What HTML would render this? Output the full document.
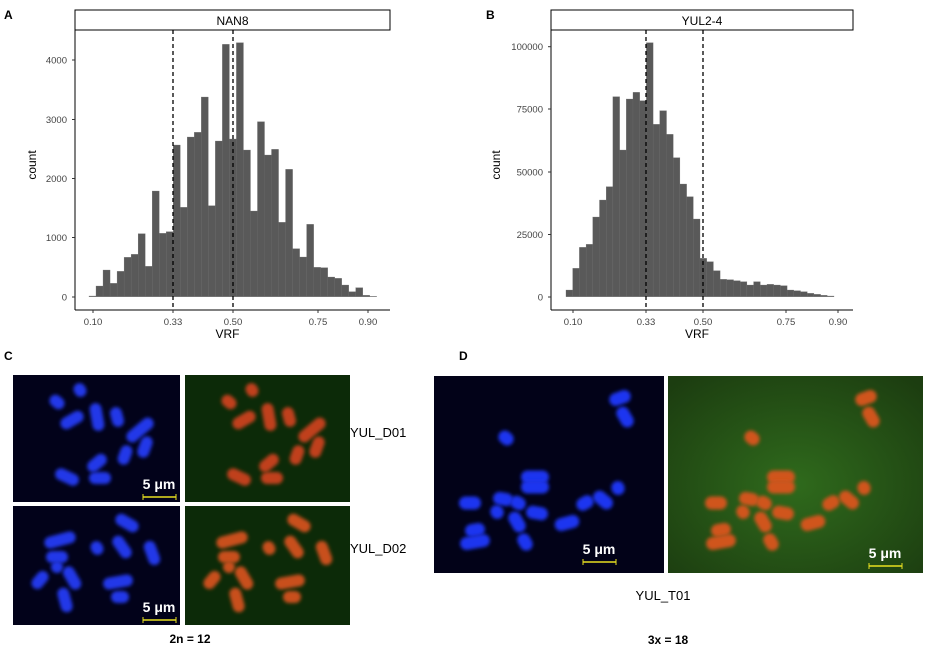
<!DOCTYPE html>
<html><head><meta charset="utf-8"><style>
body{margin:0;background:#fff;width:927px;height:653px;overflow:hidden;font-family:"Liberation Sans",sans-serif}
svg{position:absolute;left:0;top:0}
</style></head><body>
<svg id="s" width="927" height="653" viewBox="0 0 927 653" font-family="Liberation Sans, sans-serif">
<defs>
<filter id="b1" x="-50%" y="-50%" width="200%" height="200%"><feGaussianBlur stdDeviation="1.8"/></filter>
<radialGradient id="gg" cx="0.5" cy="0.55" r="0.7"><stop offset="0" stop-color="#2f6a1c"/><stop offset="1" stop-color="#1c3d10"/></radialGradient>
<clipPath id="k1"><rect x="13" y="375" width="167" height="127"/></clipPath>
<clipPath id="k2"><rect x="185" y="375" width="165" height="127"/></clipPath>
<clipPath id="k3"><rect x="13" y="506" width="167" height="119"/></clipPath>
<clipPath id="k4"><rect x="185" y="506" width="165" height="119"/></clipPath>
<clipPath id="k5"><rect x="434" y="376" width="230" height="197"/></clipPath>
<clipPath id="k6"><rect x="668" y="376" width="255" height="197"/></clipPath>
</defs>
<g id="g"></g>
</svg>
<script>
const g=document.getElementById('g');let h='';
function T(x,y,t,o){h+=`<text x="${x}" y="${y}" ${o||''}>${t}</text>`;}
const A=[798,768,720,760,724,682,673,611,709,483,610,605,345,532,321,307,201,527,333,43,327,38,360,543,275,375,358,577,418,656,681,583,712,713,741,745,765,785,773,796,799];
A.forEach((z,i)=>{const ht=(800-z)/3;h+=`<rect x="${89+i*7.02}" y="${296.7-ht}" width="7.02" height="${ht}" fill="#595959" stroke="#6a6a6a" stroke-width="0.3"/>`;});
const B=[780,715,652,643,561,510,470,200,360,207,187,212,38,283,242,313,383,462,500,567,685,695,722,748,749,752,755,765,755,765,763,765,767,780,782,785,790,793,796,798,800];
B.forEach((z,i)=>{const ht=(800-z)/3;h+=`<rect x="${566+i*6.7}" y="${296.7-ht}" width="6.7" height="${ht}" fill="#595959" stroke="#6a6a6a" stroke-width="0.3"/>`;});
function axes(x0,x1,yt,xt,strip,cx){
 h+=`<rect x="${x0}" y="10" width="${x1-x0}" height="20" fill="#fff" stroke="#000" stroke-width="1"/>`;
 T((x0+x1)/2,25,strip,'font-size="12" text-anchor="middle"');
 h+=`<line x1="${x0}" y1="30" x2="${x0}" y2="310" stroke="#000"/><line x1="${x0}" y1="310" x2="${x1}" y2="310" stroke="#000"/>`;
 yt.forEach(([v,y])=>{T(x0-8,y+3.5,v,'font-size="9.5" fill="#444" text-anchor="end"');h+=`<line x1="${x0-3}" y1="${y}" x2="${x0}" y2="${y}" stroke="#333"/>`;});
 xt.forEach(([v,x])=>{T(x,325,v,'font-size="9.5" fill="#444" text-anchor="middle"');h+=`<line x1="${x}" y1="310" x2="${x}" y2="313" stroke="#333"/>`;});
 T((x0+x1)/2-5,338,'VRF','font-size="12" text-anchor="middle"');
 T(0,0,'count',`font-size="12" text-anchor="middle" transform="translate(${cx},165) rotate(-90)"`);
}
axes(75,390,[['0',297],['1000',237.5],['2000',178.5],['3000',119.5],['4000',60]],[['0.10',93],['0.33',173],['0.50',233],['0.75',318],['0.90',368]],'NAN8',36);
axes(551,853,[['0',297],['25000',234.5],['50000',172],['75000',109],['100000',46.7]],[['0.10',573],['0.33',646],['0.50',703],['0.75',786],['0.90',838]],'YUL2-4',500);
[173,233,646,703].forEach(x=>{h+=`<line x1="${x}" y1="30" x2="${x}" y2="310" stroke="#000" stroke-width="1.3" stroke-dasharray="4,3"/>`;});
T(4,19,'A','font-size="12" font-weight="bold"');T(486,19,'B','font-size="12" font-weight="bold"');
T(4,360,'C','font-size="12" font-weight="bold"');T(459,360,'D','font-size="12" font-weight="bold"');
function img(x,y,w,hh,bg){h+=`<rect x="${x}" y="${y}" width="${w}" height="${hh}" fill="${bg}"/>`;}
function chrom(list,ox,oy,col,clip,th){h+=`<g clip-path="url(#${clip})">`;list.forEach(([x,y,l,a])=>{h+=`<rect x="${ox+x-l/2}" y="${oy+y-th/2}" width="${l}" height="${th}" rx="${th/2}" fill="${col}" filter="url(#b1)" transform="rotate(${a} ${ox+x} ${oy+y})"/>`;});h+='</g>';}
function scale(x,y){T(x+16,y-8,'5 μm','font-size="14" font-weight="bold" fill="#fff" text-anchor="middle"');h+=`<line x1="${x}" y1="${y}" x2="${x+33}" y2="${y}" stroke="#e8e020" stroke-width="1.5"/><line x1="${x}" y1="${y-3}" x2="${x}" y2="${y+3}" stroke="#e8e020"/><line x1="${x+33}" y1="${y-3}" x2="${x+33}" y2="${y+3}" stroke="#e8e020"/>`;}
const c1=[[67,15,14,60],[44,27,16,40],[59,45,25,-30],[84,42,28,80],[104,42,20,75],[127,55,32,-40],[132,72,22,-70],[112,80,20,-70],[84,88,22,-40],[54,102,25,25],[87,103,22,0]];
const c2=[[114,17,25,30],[47,34,32,-15],[44,51,22,0],[84,42,14,60],[109,41,25,55],[139,47,25,70],[27,74,20,-50],[59,72,25,60],[52,94,25,75],[105,76,30,-10],[107,91,18,0],[44,61,12,0]];
img(13,375,167,127,'#02021a');img(185,375,165,127,'#0c2a08');img(13,506,167,119,'#02021a');img(185,506,165,119,'#0c2a08');
chrom(c1,13,375,'#2038e8','k1',12);chrom(c1,185,375,'#c0401c','k2',12);chrom(c2,13,506,'#2038e8','k3',12);chrom(c2,185,506,'#c8501c','k4',12);
scale(143,497);scale(143,620);
T(350,437,'YUL_D01','font-size="13"');T(350,553,'YUL_D02','font-size="13"');
T(190,643,'2n = 12','font-size="12" font-weight="bold" text-anchor="middle"');
img(434,376,230,197,'#020218');img(668,376,255,197,'url(#gg)');
const d=[[186,22,22,-20],[191,41,22,60],[72,62,16,40],[101,101,28,0],[101,111,28,0],[36,127,22,0],[69,123,20,10],[84,127,16,30],[103,137,22,10],[63,136,14,60],[83,146,22,60],[91,166,18,60],[41,154,20,-10],[41,166,30,-10],[133,147,25,-15],[151,127,18,-30],[169,124,22,40],[184,112,14,70]];
chrom(d,434,376,'#1e34f0','k5',13);chrom(d,680,376,'#d0541c','k6',13);
scale(583,562);scale(869,566);
T(663,600,'YUL_T01','font-size="13" text-anchor="middle"');
T(668,644,'3x = 18','font-size="12" font-weight="bold" text-anchor="middle"');
g.innerHTML=h;
</script>
</body></html>
